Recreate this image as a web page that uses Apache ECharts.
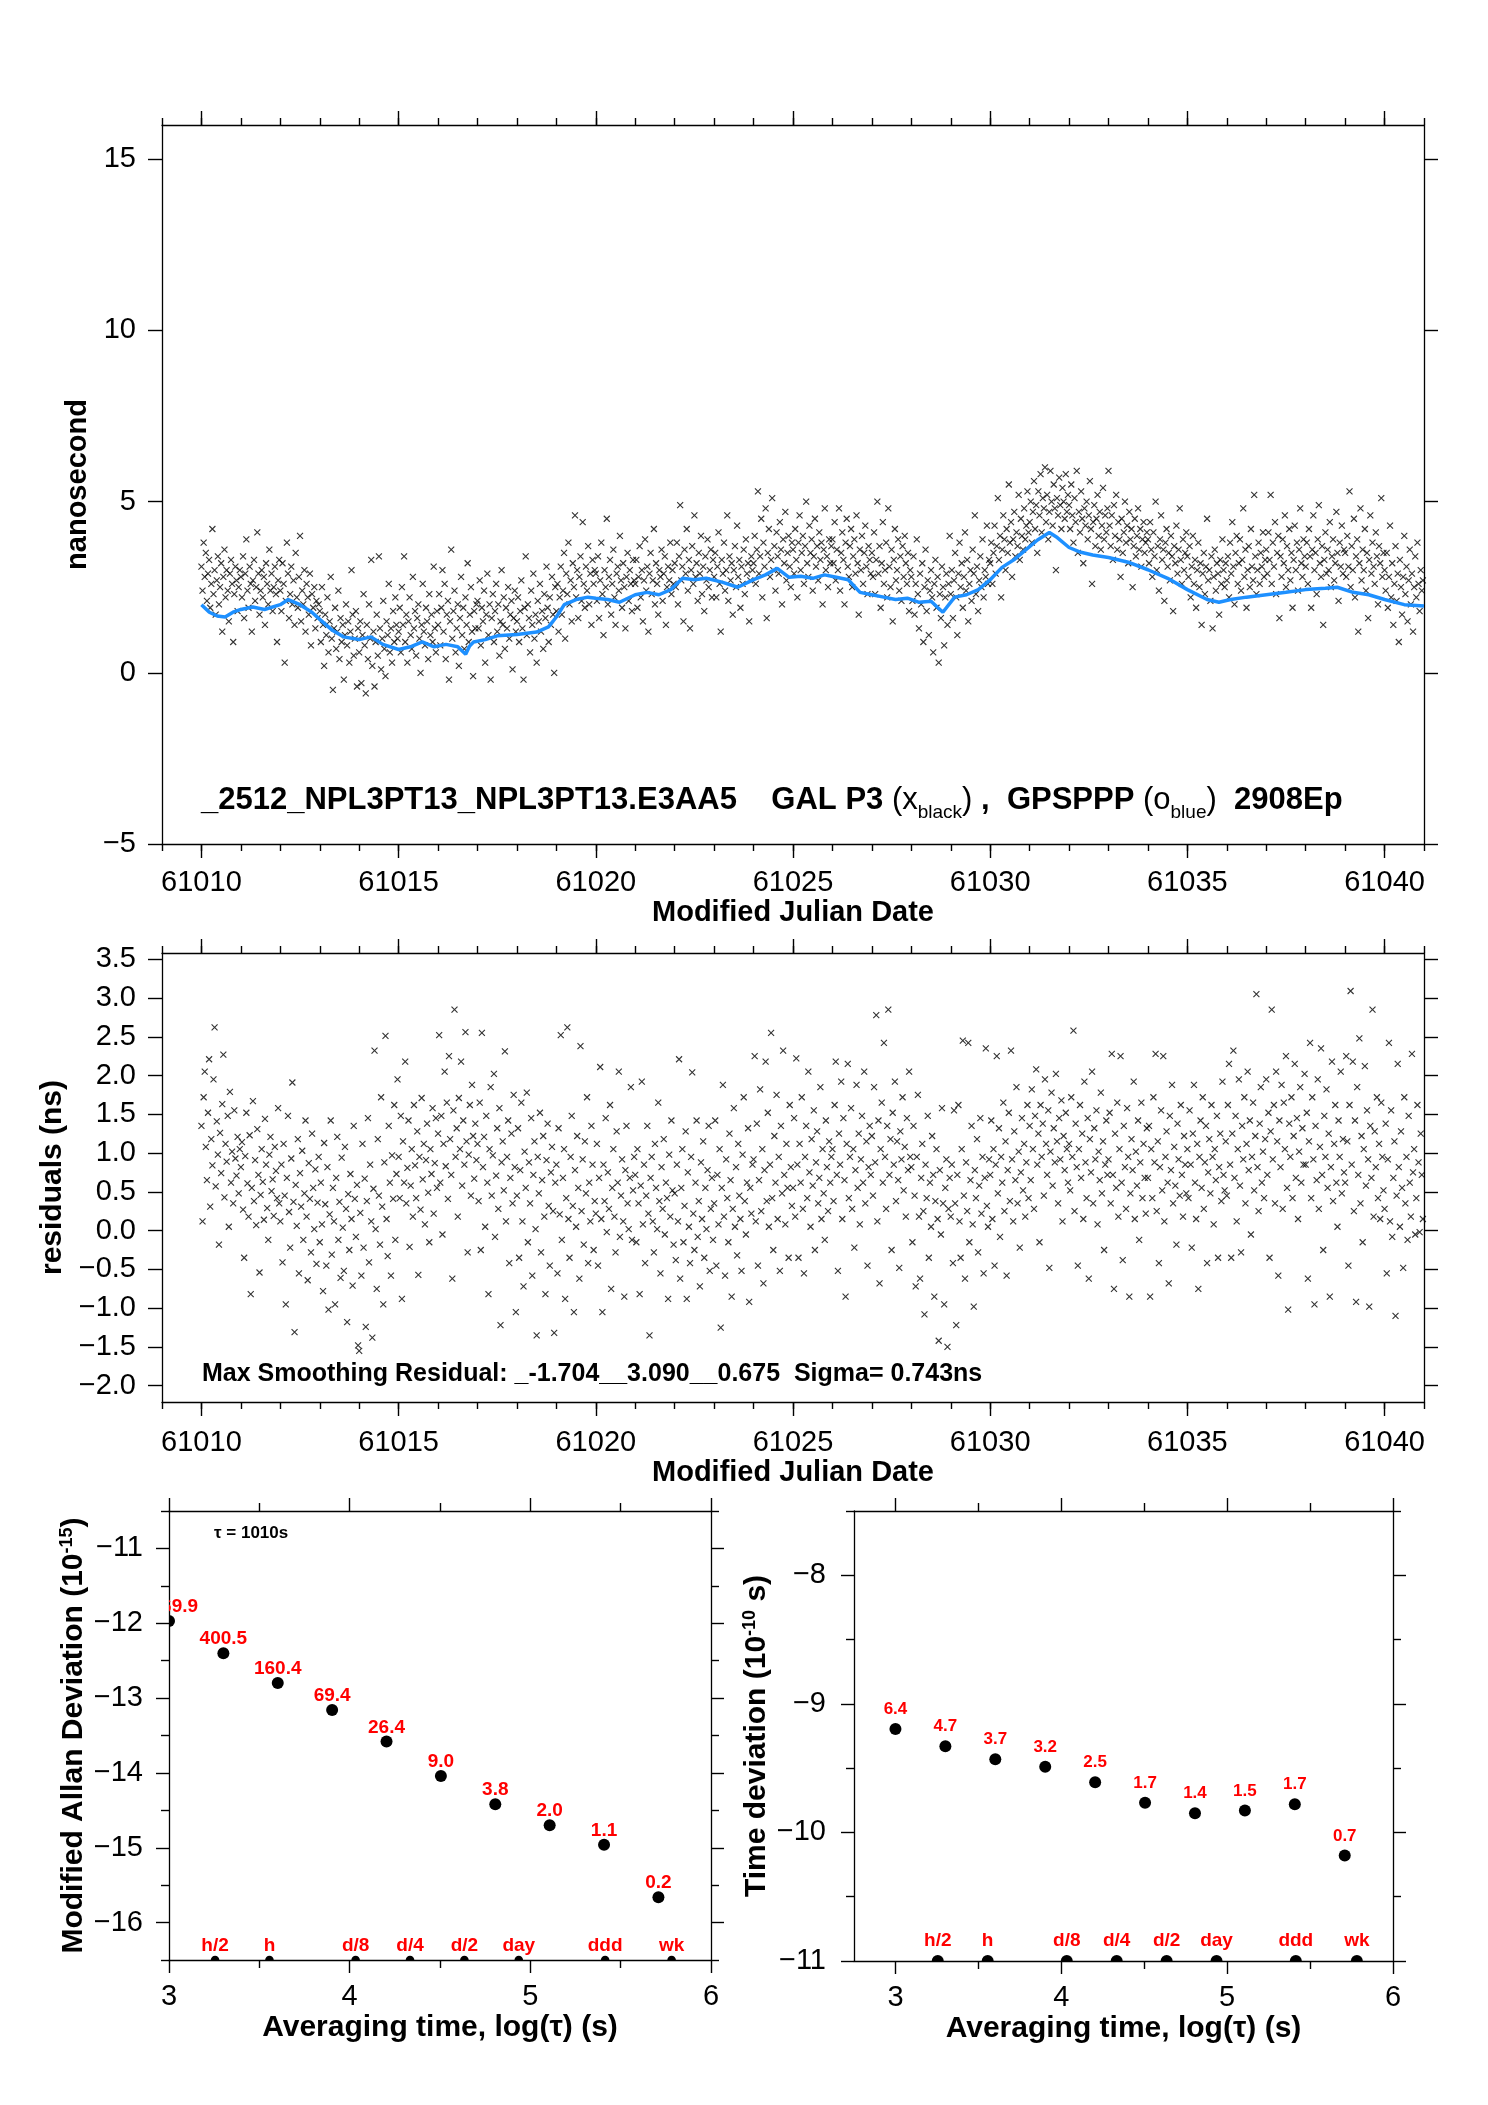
<!DOCTYPE html>
<html><head><meta charset="utf-8">
<script src="https://cdn.jsdelivr.net/npm/echarts@6/dist/echarts.min.js"></script>
<style>html,body{margin:0;padding:0;background:#fff}#c{width:1488px;height:2105px}</style>
</head><body><div id="c"></div>
<script>
const FONT = '"Liberation Sans", Arial, Helvetica, sans-serif';

// ---- tick labels / tick marks ----
const mjdLabels = [61010, 61015, 61020, 61025, 61030, 61035, 61040];
const mjdDays = [61009,61010,61011,61012,61013,61014,61015,61016,61017,61018,61019,61020,61021,61022,61023,61024,61025,61026,61027,61028,61029,61030,61031,61032,61033,61034,61035,61036,61037,61038,61039,61040,61041];
const nsTicks = [-5, 0, 5, 10, 15];
const resTicks = [-2, -1.5, -1, -0.5, 0, 0.5, 1, 1.5, 2, 2.5, 3, 3.5];
const logTauTicks = [3, 4, 5, 6];
const logTauHalf = [3.5, 4.5, 5.5];
const mdevTicks = [-16, -15, -14, -13, -12, -11];
const mdevHalf = [-16.5, -15.5, -14.5, -13.5, -12.5, -11.5, -10.5];
const tdevTicks = [-11, -10, -9, -8];
const tdevHalf = [-10.5, -9.5, -8.5, -7.5];

// ---- stability plots ----
const tauLog = [3.000, 3.301, 3.602, 3.903, 4.204, 4.505, 4.806, 5.107, 5.408, 5.709];
const mdevLog = [-11.97, -12.40, -12.80, -13.16, -13.58, -14.04, -14.42, -14.70, -14.96, -15.66];
const mdevLabels = ['1069.9', '400.5', '160.4', '69.4', '26.4', '9.0', '3.8', '2.0', '1.1', '0.2'];
const tdevLog = [-9.196, -9.33, -9.43, -9.49, -9.61, -9.77, -9.85, -9.83, -9.78, -10.18];
const tdevLabels = ['6.4', '4.7', '3.7', '3.2', '2.5', '1.7', '1.4', '1.5', '1.7', '0.7'];
const markerLog = [3.255, 3.556, 4.033, 4.334, 4.635, 4.936, 5.414, 5.782];
const markerNames = ['h/2', 'h', 'd/8', 'd/4', 'd/2', 'day', 'ddd', 'wk'];
const mdevFloor = -16.5;
const tdevFloor = -11;

// ---- GPSPPP (blue) : [MJD, ns] ----
const blueLine = [[61010.0,1.99],[61010.2,1.77],[61010.4,1.66],[61010.6,1.63],[61010.8,1.77],[61011.0,1.85],[61011.3,1.92],[61011.6,1.85],[61012.0,1.99],[61012.2,2.14],[61012.5,1.99],[61012.8,1.77],[61013.0,1.56],[61013.3,1.26],[61013.6,1.05],[61014.0,0.97],[61014.3,1.05],[61014.6,0.83],[61015.0,0.68],[61015.3,0.76],[61015.6,0.90],[61015.9,0.76],[61016.2,0.83],[61016.5,0.76],[61016.7,0.54],[61016.8,0.78],[61016.9,0.90],[61017.2,0.97],[61017.5,1.08],[61018.0,1.12],[61018.5,1.19],[61018.8,1.34],[61019.0,1.63],[61019.2,1.99],[61019.5,2.14],[61019.8,2.21],[61020.0,2.18],[61020.3,2.14],[61020.6,2.06],[61021.0,2.28],[61021.3,2.35],[61021.6,2.28],[61021.9,2.43],[61022.2,2.76],[61022.5,2.72],[61022.8,2.76],[61023.2,2.65],[61023.6,2.50],[61024.0,2.72],[61024.3,2.86],[61024.6,3.05],[61024.9,2.79],[61025.2,2.82],[61025.5,2.76],[61025.8,2.86],[61026.1,2.79],[61026.4,2.72],[61026.7,2.35],[61027.0,2.28],[61027.3,2.21],[61027.6,2.14],[61027.9,2.18],[61028.2,2.06],[61028.5,2.09],[61028.8,1.77],[61029.1,2.21],[61029.4,2.28],[61029.7,2.43],[61030.0,2.72],[61030.3,3.08],[61030.6,3.30],[61030.9,3.59],[61031.2,3.88],[61031.5,4.10],[61031.7,3.95],[61032.0,3.66],[61032.3,3.52],[61032.6,3.44],[61033.0,3.37],[61033.5,3.23],[61034.0,3.01],[61034.5,2.76],[61035.0,2.43],[61035.5,2.14],[61035.8,2.06],[61036.1,2.14],[61036.5,2.21],[61037.0,2.28],[61037.5,2.35],[61038.0,2.43],[61038.5,2.47],[61038.8,2.50],[61039.2,2.35],[61039.6,2.28],[61040.0,2.14],[61040.5,1.99],[61041.0,1.95]];

// ---- GAL P3 (black x), ns, one array per MJD day (evenly spaced in the day) ----
const g61010 = [3.1,2.4,3.8,2.8,3.5,2.1,2.9,3.3,1.9,2.6,4.2,2.3,3.0,1.7,2.7,3.4,2.0,2.5,3.2,1.2,2.8,3.6,2.2,3.0,2.4,1.5,2.9,3.3,2.6,0.9,2.3,3.1,2.7,1.8,2.5,3.0];
const g61011 = [2.8,2.2,3.4,1.6,2.9,3.9,2.4,1.9,3.1,2.6,1.2,2.7,3.3,2.1,2.5,4.1,2.9,1.7,2.4,3.0,2.2,2.8,1.4,3.2,2.6,2.0,3.6,2.4,2.9,1.8,2.5,3.1,2.3,0.9,2.7,3.3];
const g61012 = [2.4,1.8,3.2,2.6,0.3,2.1,3.8,2.9,1.6,2.3,3.1,2.0,2.7,1.4,3.5,2.2,1.9,2.8,4.0,1.5,2.4,2.0,3.0,1.2,2.6,2.2,1.7,2.9,0.8,2.3,1.9,2.5,1.3,2.1,1.6,2.0];
const g61013 = [1.8,0.9,2.5,1.4,0.2,1.7,1.1,2.2,0.6,1.5,2.8,1.0,-0.5,1.3,1.9,0.7,1.2,2.4,0.4,1.6,0.9,1.4,-0.2,1.1,2.0,0.8,1.5,0.3,1.2,3.0,1.7,0.5,1.0,1.8,-0.4,1.3];
const g61014 = [0.6,1.5,-0.3,1.1,2.3,0.8,-0.6,1.4,0.4,2.0,1.0,3.3,0.2,1.2,-0.4,0.9,1.7,0.5,3.4,1.3,0.1,1.0,2.1,0.7,-0.1,1.5,1.1,2.6,0.6,1.3,0.3,1.8,0.9,2.2,1.4,1.0];
const g61015 = [1.2,1.9,0.6,2.5,1.4,3.4,0.9,1.7,0.3,1.5,2.2,1.1,0.7,2.8,1.3,1.8,0.5,1.6,2.0,1.0,0.0,1.4,2.6,1.2,0.8,1.9,1.5,0.4,2.3,1.1,1.7,0.9,3.1,1.3,0.6,1.8];
const g61016 = [1.4,2.3,0.8,1.9,3.0,1.2,2.6,0.4,1.7,2.1,-0.2,1.5,3.6,1.0,1.8,2.4,0.6,1.3,2.0,0.2,1.6,2.8,1.1,1.9,0.7,2.2,1.4,3.2,0.9,1.7,2.5,1.2,-0.1,1.8,1.3,2.0];
const g61017 = [2.1,1.3,2.7,0.8,1.9,1.5,2.4,0.3,1.7,2.9,1.1,2.0,-0.2,1.6,2.3,0.9,1.8,2.6,1.2,2.0,0.5,1.5,3.0,1.4,2.2,0.7,1.9,1.3,2.5,1.0,1.7,2.1,0.1,1.6,2.4,1.2];
const g61018 = [1.5,2.2,0.9,1.8,2.7,1.3,-0.2,1.9,3.4,1.1,2.0,1.6,0.6,2.4,1.4,2.9,1.0,1.7,0.3,2.1,1.5,2.6,1.2,1.8,0.7,2.3,1.6,3.1,1.9,0.9,2.2,1.4,2.8,1.7,0.0,2.5];
const g61019 = [1.8,2.6,1.2,2.2,3.1,1.7,2.4,3.5,1.0,2.9,2.3,3.8,2.0,2.7,1.5,3.2,2.5,4.6,2.2,3.0,1.6,2.8,3.4,2.1,4.4,2.6,1.9,3.1,2.4,3.7,2.0,2.9,1.4,3.3,2.6,3.0];
const g61020 = [2.9,2.1,3.4,1.6,2.7,3.8,2.3,1.1,3.0,2.5,4.5,2.0,2.8,3.3,1.7,2.6,3.6,2.2,1.4,2.9,3.1,2.4,4.0,2.7,1.9,3.2,2.5,1.3,2.8,3.5,2.1,3.0,2.6,1.8,3.3,2.7];
const g61021 = [2.6,3.3,1.9,2.8,3.7,2.2,3.0,1.5,2.7,3.9,2.4,3.1,1.2,2.9,3.5,2.3,2.7,4.2,2.0,3.2,2.6,1.7,3.0,2.8,3.6,2.1,2.9,3.4,1.4,2.5,3.1,2.7,3.8,2.3,3.0,2.6];
const g61022 = [3.2,2.5,3.8,2.0,3.4,4.9,2.7,3.1,1.5,3.6,2.9,4.2,2.4,3.3,1.3,3.0,3.7,2.6,4.6,2.8,3.2,2.1,3.5,2.9,4.0,2.3,3.1,1.8,3.4,2.7,3.9,2.5,3.0,3.6,2.2,3.3];
const g61023 = [2.8,3.5,2.2,3.1,4.1,2.6,1.2,3.3,2.9,3.8,2.4,3.0,4.6,2.1,3.4,2.7,3.2,1.7,3.0,3.7,2.5,4.3,2.8,3.3,1.9,3.1,2.6,3.6,2.3,3.9,2.9,3.2,1.5,2.7,3.4,3.0];
const g61024 = [3.2,4.0,2.6,3.6,5.3,2.9,3.4,4.5,2.2,3.8,3.1,4.8,1.6,3.5,4.2,2.8,3.3,5.1,3.0,3.7,2.4,4.1,3.4,2.9,4.4,3.6,2.0,3.9,3.2,4.7,2.7,3.5,4.0,3.1,2.5,3.8];
const g61025 = [3.6,2.9,4.2,3.3,2.2,3.8,4.6,3.0,3.5,4.0,2.6,3.7,5.0,3.2,2.8,4.3,3.5,3.9,2.4,3.4,4.5,3.1,3.7,2.7,4.1,3.3,3.8,2.0,3.6,4.8,3.0,3.4,2.5,3.9,3.2,3.7];
const g61026 = [3.9,3.2,4.4,2.7,3.6,3.0,4.8,2.4,3.5,4.1,3.3,2.0,3.8,4.5,3.1,2.8,3.7,4.2,2.5,3.4,3.9,2.9,4.6,3.2,1.7,3.6,3.0,4.0,2.6,3.5,4.3,3.1,2.3,3.7,3.3,2.9];
const g61027 = [3.5,2.8,4.1,2.3,3.3,5.0,2.9,3.7,1.9,3.2,4.4,2.6,3.0,3.8,2.2,4.8,3.1,2.5,3.6,1.5,3.3,4.2,2.7,3.0,3.9,2.4,3.4,2.1,3.7,2.8,4.0,3.2,2.6,3.5,1.8,3.0];
const g61028 = [2.8,2.1,3.4,1.7,2.6,3.9,2.3,1.3,2.9,2.0,3.2,0.9,2.5,3.6,1.8,2.7,1.1,2.4,3.0,2.2,0.6,2.6,3.3,1.9,2.8,0.3,2.3,1.6,3.1,2.5,0.8,2.2,2.9,1.4,2.6,4.0];
const g61029 = [2.3,3.0,1.6,2.7,3.5,2.2,1.1,2.9,3.8,2.5,3.2,1.9,2.8,4.1,2.4,3.3,1.5,2.6,3.0,2.1,3.6,2.9,4.6,2.3,3.1,1.8,2.7,3.4,2.5,3.9,2.2,3.0,2.8,4.3,2.6,3.3];
const g61030 = [3.2,3.8,2.6,3.5,4.3,2.9,3.7,5.1,3.3,4.0,2.2,3.6,4.6,3.9,3.0,4.2,3.5,5.5,3.8,4.4,2.8,3.9,4.7,3.4,4.1,3.7,5.2,3.3,4.5,4.0,3.6,4.8,3.9,4.3,5.3,4.1];
const g61031 = [4.4,5.0,3.8,4.7,5.6,4.2,4.9,3.5,5.3,4.6,5.8,4.1,5.1,4.8,6.0,4.4,5.2,3.9,4.7,5.9,5.0,4.3,5.5,4.8,3.0,5.1,4.6,5.7,4.9,4.2,5.4,5.0,4.5,5.8,4.7,5.2];
const g61032 = [4.9,4.2,5.5,4.6,3.8,5.1,4.4,5.9,3.5,4.7,4.1,5.3,4.5,3.2,4.8,4.3,5.0,3.9,4.6,5.6,4.2,2.6,4.4,4.9,3.7,4.5,5.2,4.0,4.7,3.6,4.3,5.4,3.9,4.6,4.1,4.8];
const g61033 = [5.9,4.3,3.7,4.6,3.3,4.9,4.0,5.2,3.6,4.4,3.9,2.8,4.5,3.5,4.1,5.0,3.8,4.3,3.2,4.7,3.9,4.2,2.5,3.7,4.5,3.4,4.0,4.8,3.6,4.2,3.1,3.9,4.4,3.5,3.8,4.1];
const g61034 = [3.9,3.2,4.4,3.6,2.8,4.1,3.4,5.0,3.0,3.7,2.4,3.9,4.6,3.3,3.6,2.1,3.8,4.2,3.1,3.5,2.7,4.0,3.4,1.8,3.7,3.2,4.3,2.9,3.6,4.8,3.3,2.6,3.9,3.0,3.5,4.1];
const g61035 = [3.4,2.8,3.7,2.2,3.1,4.0,2.6,3.3,1.9,3.0,3.8,2.5,3.2,1.4,2.9,3.5,2.3,3.1,4.5,2.7,3.0,2.1,3.4,1.3,2.8,3.6,2.4,3.2,2.9,1.7,3.3,2.6,3.9,3.0,2.5,3.2];
const g61036 = [2.7,3.4,2.2,3.8,2.9,4.4,3.1,2.0,3.5,4.0,2.6,3.2,3.9,2.4,3.3,4.8,2.8,3.6,1.9,3.0,3.7,2.5,4.2,3.1,2.7,5.2,3.4,2.3,3.0,3.8,2.6,3.5,3.1,4.1,2.8,3.3];
const g61037 = [3.6,2.9,4.1,3.3,5.2,2.6,3.8,3.1,4.4,2.3,3.5,4.0,1.6,3.4,2.8,3.9,3.2,4.6,2.5,3.7,3.0,4.2,2.7,3.5,1.9,3.3,4.3,3.0,3.8,2.4,3.6,4.8,3.2,2.8,3.9,3.4];
const g61038 = [3.1,3.8,2.6,4.2,3.4,1.9,3.6,4.6,3.0,3.5,2.3,3.9,4.9,3.2,2.8,3.7,1.4,3.3,4.1,2.9,3.6,3.0,4.4,2.5,3.4,3.9,2.7,3.2,4.7,3.5,2.1,3.8,3.1,4.3,2.9,3.6];
const g61039 = [3.5,2.8,4.0,3.1,5.3,2.5,3.7,3.0,4.5,2.2,3.4,3.9,1.2,3.2,4.8,2.7,3.6,3.0,4.2,2.4,3.5,1.6,3.3,4.6,2.9,3.8,3.1,2.6,4.1,3.4,2.0,3.7,3.2,5.1,2.8,3.5];
const g61040 = [3.0,2.4,3.5,1.9,2.8,4.3,2.2,3.2,1.4,2.6,3.7,2.1,2.9,0.9,3.3,2.5,1.7,2.8,4.0,2.3,3.1,1.5,2.7,3.6,2.0,2.9,1.2,2.5,3.4,2.2,3.8,2.6,1.8,3.0,2.4,2.7];

// ---- residuals (ns), one array per MJD day ----
const r61010 = [1.35,0.12,1.72,2.05,1.08,0.65,1.52,2.21,0.31,1.18,0.84,1.95,2.62,0.57,1.41,0.98,-0.18,1.26,0.74,1.63,2.27,0.43,1.12,0.89,1.48,0.05,1.79,0.62,1.02,0.35,1.55,0.93,0.71,1.21,0.48,1.05];
const r61011 = [0.82,1.14,0.27,-0.35,0.96,1.52,0.61,0.18,1.23,-0.82,0.55,1.67,0.38,0.91,0.07,1.31,0.72,-0.54,0.46,1.05,0.63,0.14,1.44,0.85,0.29,-0.12,0.98,1.21,0.51,0.66,0.19,1.08,0.77,0.42,1.58,0.35];
const r61012 = [0.12,0.85,-0.41,1.12,0.45,-0.95,0.68,1.48,0.24,-0.22,0.93,1.91,0.37,-1.31,0.59,0.06,1.18,-0.55,0.74,0.31,1.03,-0.12,0.48,1.42,0.18,-0.64,0.87,0.41,-0.28,1.25,0.55,0.02,0.79,-0.43,0.36,0.95];
const r61013 = [-0.15,0.62,0.08,-0.78,1.13,0.34,-0.45,0.82,-1.02,0.21,1.42,-0.31,0.55,0.12,-0.95,0.68,1.21,-0.12,0.37,-0.61,0.94,0.04,-0.52,1.08,0.28,-1.18,0.47,-0.25,0.73,0.15,-0.71,1.35,0.41,-0.08,0.59,-1.48];
const r61014 = [-1.55,0.23,-0.58,1.12,-0.22,0.67,-1.24,0.38,1.45,-0.41,0.85,0.12,-1.38,0.54,2.32,0.02,-0.75,1.18,0.45,-0.18,1.72,0.31,-0.95,0.88,2.51,0.15,-0.33,1.35,0.62,-0.58,0.97,0.41,1.62,-0.12,0.73,1.95];
const r61015 = [0.95,0.42,1.48,-0.88,1.15,0.62,2.18,0.35,0.81,1.42,-0.21,0.58,1.05,0.18,1.62,0.84,0.42,1.28,-0.57,0.95,0.27,1.71,0.66,1.12,0.08,0.91,1.38,0.49,-0.15,1.05,0.73,1.58,0.22,0.87,1.45,0.55];
const r61016 = [1.25,2.52,0.62,1.48,-0.05,1.12,2.05,0.83,1.65,0.41,2.25,1.18,0.72,-0.62,1.55,2.85,0.95,1.32,0.18,1.71,1.05,2.18,0.58,1.42,0.85,2.56,1.15,-0.28,0.98,1.62,0.45,1.88,1.22,0.67,1.38,0.91];
const r61017 = [1.12,0.38,1.65,-0.25,2.55,0.82,1.21,0.05,1.48,0.62,-0.82,1.05,1.85,0.45,0.97,2.02,-0.08,0.71,1.32,0.28,1.58,-1.22,0.88,1.15,0.52,2.31,0.12,0.95,1.42,-0.42,0.68,1.25,0.35,1.75,0.82,-1.05];
const r61018 = [0.45,1.32,-0.35,0.78,1.65,0.12,-0.72,1.02,0.55,1.78,-0.15,0.88,0.35,1.45,-0.58,0.72,1.15,0.02,-1.35,0.95,0.48,1.52,-0.28,0.65,1.22,0.18,-0.82,0.91,1.38,0.32,-0.45,0.75,1.08,0.25,-1.32,0.62];
const r61019 = [0.85,-0.55,1.32,0.21,2.52,-0.12,0.68,1.05,-0.88,0.42,2.62,0.15,-0.35,0.95,1.48,0.32,-1.05,0.78,0.05,1.22,0.55,-0.62,2.38,0.25,0.92,-0.18,1.15,0.48,1.72,-0.42,0.62,0.12,1.35,0.85,-0.25,0.38];
const r61020 = [0.22,1.12,-0.45,0.68,2.11,0.15,-1.05,0.85,0.38,1.45,-0.02,0.75,0.28,1.62,-0.75,0.55,1.05,0.18,-0.28,1.28,0.62,2.05,-0.08,0.45,0.92,0.12,-0.85,0.78,1.35,0.35,0.02,0.68,1.85,-0.12,0.52,0.95];
const r61021 = [0.72,-0.15,1.05,0.35,-0.82,0.58,1.92,0.08,0.85,-0.42,0.45,1.35,0.22,-1.35,0.68,0.95,0.12,-0.28,1.12,0.55,0.02,1.65,0.38,-0.55,0.82,0.28,1.18,-0.05,0.62,0.42,-0.88,0.98,0.18,1.42,0.52,-0.18];
const r61022 = [0.48,-0.38,0.85,0.12,2.21,-0.62,0.55,1.05,-0.15,0.32,1.28,-0.88,0.75,0.05,-0.42,0.95,2.04,0.22,-0.25,0.62,1.42,-0.08,0.38,-0.72,0.88,0.15,1.15,-0.35,0.55,0.02,0.78,1.35,-0.52,0.28,0.68,-0.12];
const r61023 = [0.35,1.42,-0.45,0.72,0.08,1.05,-1.25,0.55,1.88,0.18,-0.58,0.92,0.42,-0.15,1.25,0.65,-0.85,0.28,1.58,0.05,0.82,-0.32,1.12,0.45,0.15,-0.52,0.98,1.72,0.38,-0.05,0.62,1.32,-0.92,0.55,0.22,0.85];
const r61024 = [0.92,2.25,0.12,1.38,-0.45,0.65,1.82,0.25,1.05,-0.68,0.78,2.18,0.38,1.52,0.05,0.85,2.55,0.42,-0.25,1.22,0.62,1.75,0.15,0.95,-0.52,1.35,0.48,2.32,0.72,0.08,1.12,0.55,-0.35,1.62,0.82,0.32];
const r61025 = [0.55,1.45,0.18,2.22,0.85,-0.35,1.12,0.62,1.72,0.28,-0.55,0.95,1.35,0.42,2.05,0.75,0.05,1.18,0.58,1.55,-0.25,0.88,1.28,0.35,0.68,1.85,0.15,1.05,0.48,-0.12,1.42,0.82,0.25,1.15,0.62,0.95];
const r61026 = [1.05,0.38,1.62,2.18,0.72,-0.52,1.25,0.85,1.92,0.15,1.45,0.65,-0.85,1.12,2.15,0.42,0.95,1.58,0.28,1.05,-0.22,0.78,1.88,0.55,1.25,0.08,0.92,1.48,0.62,2.05,0.35,1.15,-0.45,0.82,1.35,0.72];
const r61027 = [1.22,0.45,1.85,0.88,2.78,0.12,1.42,-0.68,1.05,1.65,0.62,2.42,0.95,0.28,1.35,2.85,0.72,1.18,-0.25,1.52,0.85,1.92,0.38,1.15,0.65,-0.48,1.28,0.92,1.72,0.52,1.08,0.18,1.45,0.78,2.05,0.95];
const r61028 = [0.82,-0.15,1.35,0.45,-0.72,0.95,1.75,0.18,-0.62,0.68,1.12,0.25,-1.08,0.85,0.42,1.48,-0.35,0.62,0.05,1.22,0.72,-0.85,0.38,1.05,0.15,-1.42,0.78,-0.05,1.58,0.35,-0.95,0.55,0.92,-1.50,0.28,0.68];
const r61029 = [0.18,0.85,-0.42,1.55,0.35,-1.22,0.72,1.62,0.12,-0.35,1.05,2.45,0.45,-0.62,0.88,0.25,2.42,-0.15,0.65,1.35,0.08,-0.98,0.78,0.42,1.18,-0.28,0.58,1.45,0.22,0.95,-0.55,0.68,2.35,0.32,0.05,0.92];
const r61030 = [0.72,1.42,0.15,1.05,-0.45,0.85,2.25,0.48,1.32,-0.08,0.95,0.62,1.65,0.25,1.15,-0.58,0.78,1.52,0.38,2.32,0.92,0.12,1.28,0.65,1.85,0.35,1.02,-0.22,0.75,1.45,0.52,1.12,0.18,0.88,1.62,0.42];
const r61031 = [1.35,0.65,1.82,1.05,0.28,1.48,2.08,0.85,1.25,-0.15,1.62,0.95,1.38,0.45,1.95,1.12,0.72,1.55,-0.48,1.02,1.78,0.58,1.32,0.88,2.02,1.15,0.35,1.45,0.92,1.68,0.12,1.22,0.78,1.52,1.05,0.62];
const r61032 = [1.12,0.52,1.72,0.95,2.58,0.25,1.38,0.82,-0.45,1.05,1.62,0.68,1.25,0.15,1.92,0.88,0.42,1.45,-0.62,1.18,0.75,2.05,0.35,1.32,0.92,1.55,0.08,1.02,0.65,1.78,0.48,1.15,-0.25,0.85,1.42,0.72];
const r61033 = [0.92,1.52,0.35,2.28,0.72,-0.75,1.25,0.55,1.65,0.18,1.05,2.25,0.62,-0.38,1.35,0.82,0.28,1.58,0.95,-0.85,0.48,1.18,0.78,1.92,0.15,1.02,0.58,1.42,-0.12,0.88,1.65,0.42,1.12,0.68,0.22,1.32];
const r61034 = [0.68,1.35,-0.85,1.05,0.42,1.72,0.88,2.28,0.25,1.15,-0.42,0.82,1.55,0.52,2.25,0.12,0.95,1.28,0.62,-0.68,1.48,0.78,1.88,0.35,1.08,0.58,-0.18,1.38,0.92,0.45,1.62,0.72,0.18,1.22,0.85,0.48];
const r61035 = [1.05,0.42,1.55,0.85,-0.22,1.25,1.88,0.62,0.15,1.12,-0.75,0.95,1.42,0.55,1.72,0.28,0.88,1.35,-0.42,0.75,1.18,0.48,1.62,0.95,0.08,1.05,0.65,1.48,-0.35,0.82,1.25,0.38,1.92,0.72,0.52,1.15];
const r61036 = [0.45,1.62,2.15,0.85,-0.35,1.25,2.32,0.68,1.48,0.12,1.05,1.95,0.58,-0.28,1.35,0.92,1.72,0.35,1.12,2.05,0.78,1.42,-0.05,0.95,1.65,0.52,1.22,3.05,0.82,0.25,1.38,1.85,0.62,1.02,0.42,1.18];
const r61037 = [1.95,0.72,1.52,-0.35,1.28,2.85,0.92,1.62,0.35,2.05,1.15,-0.58,1.42,0.82,1.88,0.28,1.65,1.05,2.25,0.55,-1.02,1.38,0.95,1.72,0.42,1.22,2.15,0.68,1.45,0.15,1.02,1.85,0.62,1.32,0.85,2.02];
const r61038 = [0.85,1.52,-0.62,1.15,2.42,0.42,1.72,0.92,-0.95,1.35,0.65,1.95,0.28,1.08,2.35,0.72,-0.25,1.48,0.95,1.82,0.55,1.25,-0.85,0.82,2.18,0.38,1.12,1.62,0.62,0.05,1.42,0.95,2.05,0.48,1.18,0.75];
const r61039 = [0.62,2.25,1.15,-0.45,1.62,3.09,0.85,2.18,0.25,1.42,-0.92,1.85,0.72,2.48,0.35,1.22,-0.15,1.05,2.12,0.58,1.55,0.92,-0.98,1.35,0.68,2.85,0.18,1.28,0.82,1.72,0.42,1.12,0.15,1.65,0.95,0.52];
const r61040 = [0.28,1.38,-0.55,0.92,2.42,0.12,1.55,-0.08,0.68,1.15,-1.10,0.45,2.15,0.82,0.05,1.28,0.55,-0.48,1.72,0.35,0.95,-0.12,1.48,0.62,0.18,2.28,0.75,1.05,-0.05,0.42,1.62,0.88,-0.02,1.25,0.72,0.15];

const galDays = [g61010,g61011,g61012,g61013,g61014,g61015,g61016,g61017,g61018,g61019,g61020,g61021,g61022,g61023,g61024,g61025,g61026,g61027,g61028,g61029,g61030,g61031,g61032,g61033,g61034,g61035,g61036,g61037,g61038,g61039,g61040];
const resDays = [r61010,r61011,r61012,r61013,r61014,r61015,r61016,r61017,r61018,r61019,r61020,r61021,r61022,r61023,r61024,r61025,r61026,r61027,r61028,r61029,r61030,r61031,r61032,r61033,r61034,r61035,r61036,r61037,r61038,r61039,r61040];
const firstDay = 61010;

function toPoints(days) {
  const out = [];
  days.forEach((arr, d) => arr.forEach((v, j) => out.push([firstDay + d + j / arr.length, v])));
  return out;
}

// ---------------- chart ----------------
const MINUS = '\u2212';
const fmtInt = v => (v < 0 ? MINUS : '') + Math.abs(v).toFixed(0);
const fmt1 = v => (v < 0 ? MINUS : '') + Math.abs(v).toFixed(1);

const xAxes = [], yAxes = [];
const LINE = {show: true, onZero: false, lineStyle: {color: '#000', width: 1.3}};
const NOLINE = {show: false, onZero: false};
function tick(len, vals) {
  return {show: true, inside: false, length: len, customValues: vals, lineStyle: {color: '#000', width: 1.4}};
}
function base(g, min, max, pos) {
  return {gridIndex: g, type: 'value', min: min, max: max, position: pos, scale: true,
    splitLine: {show: false}, splitArea: {show: false}, minorTick: {show: false}};
}
function addBox(g, c) {
  const xi = xAxes.length, yi = yAxes.length;
  const nameStyle = Object.assign({fontFamily: FONT, fontSize: c.nameFs, fontWeight: 'bold', color: '#000'}, c.nameExtra || {});
  xAxes.push(Object.assign(base(g, c.xMin, c.xMax, 'bottom'), {
    axisLine: LINE, axisTick: tick(c.major, c.xMajor),
    axisLabel: {show: true, customValues: c.xMajor, formatter: c.xFmt, margin: c.xMargin, fontFamily: FONT, fontSize: c.fs, color: '#000'},
    name: c.xName, nameLocation: 'middle', nameGap: c.xNameGap,
    nameTextStyle: {fontFamily: FONT, fontSize: c.xNameFs, fontWeight: 'bold', color: '#000'}
  }));
  xAxes.push(Object.assign(base(g, c.xMin, c.xMax, 'top'), {axisLine: LINE, axisTick: tick(c.major, c.xMajor), axisLabel: {show: false}}));
  if (c.xMinor) {
    xAxes.push(Object.assign(base(g, c.xMin, c.xMax, 'bottom'), {axisLine: NOLINE, axisTick: tick(c.minor, c.xMinor), axisLabel: {show: false}}));
    xAxes.push(Object.assign(base(g, c.xMin, c.xMax, 'top'), {axisLine: NOLINE, axisTick: tick(c.minor, c.xMinor), axisLabel: {show: false}}));
  }
  yAxes.push(Object.assign(base(g, c.yMin, c.yMax, 'left'), {
    axisLine: LINE, axisTick: tick(c.major, c.yMajor),
    axisLabel: {show: true, customValues: c.yMajor, formatter: c.yFmt, margin: c.yMargin, fontFamily: FONT, fontSize: c.fs, color: '#000'},
    name: c.yName, nameLocation: 'middle', nameGap: c.yNameGap, nameTextStyle: nameStyle
  }));
  yAxes.push(Object.assign(base(g, c.yMin, c.yMax, 'right'), {axisLine: LINE, axisTick: tick(c.major, c.yMajor), axisLabel: {show: false}}));
  if (c.yMinor) {
    yAxes.push(Object.assign(base(g, c.yMin, c.yMax, 'left'), {axisLine: NOLINE, axisTick: tick(c.minor, c.yMinor), axisLabel: {show: false}}));
    yAxes.push(Object.assign(base(g, c.yMin, c.yMax, 'right'), {axisLine: NOLINE, axisTick: tick(c.minor, c.yMinor), axisLabel: {show: false}}));
  }
  return {x: xi, y: yi};
}

const grids = [
  {left: 162, top: 125, width: 1262, height: 719},
  {left: 162, top: 953, width: 1262, height: 449},
  {left: 169, top: 1511, width: 542, height: 449},
  {left: 854, top: 1511, width: 539, height: 450}
];

const A0 = addBox(0, {xMin: 61009, xMax: 61041, xMajor: mjdLabels, xMinor: mjdDays, xFmt: v => String(v), xMargin: 24,
  xName: 'Modified Julian Date', xNameGap: 54, xNameFs: 29,
  yMin: -5, yMax: 16, yMajor: nsTicks, yFmt: fmtInt, yMargin: 26, yName: 'nanosecond', yNameGap: 62, nameFs: 29,
  major: 14, minor: 7, fs: 29});
const A1 = addBox(1, {xMin: 61009, xMax: 61041, xMajor: mjdLabels, xMinor: mjdDays, xFmt: v => String(v), xMargin: 26,
  xName: 'Modified Julian Date', xNameGap: 56, xNameFs: 29,
  yMin: -2.21, yMax: 3.58, yMajor: resTicks, yFmt: fmt1, yMargin: 26, yName: 'residuals (ns)', yNameGap: 84, nameFs: 30,
  major: 14, minor: 7, fs: 29});
const supRich = {sup: {fontFamily: FONT, fontSize: 18, fontWeight: 'bold', lineHeight: 18, verticalAlign: 'top', color: '#000'}};
const A2 = addBox(2, {xMin: 3, xMax: 6, xMajor: logTauTicks, xMinor: logTauHalf, xFmt: v => String(v), xMargin: 22,
  xName: 'Averaging time, log(\u03c4) (s)', xNameGap: 53, xNameFs: 30,
  yMin: -16.5, yMax: -10.5, yMajor: mdevTicks, yMinor: mdevHalf, yFmt: fmtInt, yMargin: 26,
  yName: 'Modified Allan Deviation (10{sup|-15})', yNameGap: 78, nameFs: 30, nameExtra: {lineHeight: 32, rich: supRich},
  major: 13, minor: 8, fs: 29});
const A3 = addBox(3, {xMin: 2.75, xMax: 6, xMajor: logTauTicks, xMinor: logTauHalf, xFmt: v => String(v), xMargin: 22,
  xName: 'Averaging time, log(\u03c4) (s)', xNameGap: 53, xNameFs: 30,
  yMin: -11, yMax: -7.5, yMajor: tdevTicks, yMinor: tdevHalf, yFmt: fmtInt, yMargin: 28,
  yName: 'Time deviation (10{sup|-10} s)', yNameGap: 80, nameFs: 30, nameExtra: {lineHeight: 32, rich: supRich},
  major: 13, minor: 8, fs: 29});

function dotRenderer(labels, r, fs, dy) {
  return function (params, api) {
    const p = api.coord([api.value(0), api.value(1)]);
    return {type: 'group', children: [
      {type: 'circle', shape: {cx: p[0], cy: p[1], r: r}, style: {fill: '#000'}},
      {type: 'text', x: p[0], y: p[1] - dy, style: {text: labels[params.dataIndex], fill: '#ff0000',
        font: 'bold ' + fs + 'px ' + FONT, align: 'center', verticalAlign: 'bottom'}}
    ]};
  };
}

const crossSymbol = 'path://M0,0L10,10M10,0L0,10';
const crossStyle = {color: '#000', borderColor: '#000', borderWidth: 1.1};

const option = {
  animation: false,
  backgroundColor: '#fff',
  grid: grids,
  xAxis: xAxes,
  yAxis: yAxes,
  title: [
    {left: 201, top: 778, padding: 0,
     text: '_2512_NPL3PT13_NPL3PT13.E3AA5    GAL P3 {r|(x}{sub|black}{r|)} ,  GPSPPP {r|(o}{sub|blue}{r|)}  2908Ep',
     textStyle: {fontFamily: FONT, fontSize: 31, fontWeight: 'bold', color: '#000', lineHeight: 44,
       rich: {r: {fontFamily: FONT, fontSize: 31, fontWeight: 'normal', lineHeight: 44, color: '#000'},
              sub: {fontFamily: FONT, fontSize: 19, fontWeight: 'normal', lineHeight: 19, verticalAlign: 'bottom', color: '#000'}}}},
    {left: 202, top: 1359, padding: 0,
     text: 'Max Smoothing Residual: _-1.704__3.090__0.675  Sigma= 0.743ns',
     textStyle: {fontFamily: FONT, fontSize: 25, fontWeight: 'bold', color: '#000', lineHeight: 30}},
    {left: 214, top: 1523, padding: 0,
     text: '\u03c4 = 1010s',
     textStyle: {fontFamily: FONT, fontSize: 17, fontWeight: 'bold', color: '#000', lineHeight: 20}}
  ],
  series: [
    {type: 'scatter', xAxisIndex: A0.x, yAxisIndex: A0.y, data: toPoints(galDays), symbol: crossSymbol,
     symbolSize: [6, 6], itemStyle: crossStyle, z: 2, silent: true},
    {type: 'line', xAxisIndex: A0.x, yAxisIndex: A0.y, data: blueLine, showSymbol: false, symbol: 'none',
     lineStyle: {color: '#1E90FF', width: 3.5}, z: 3, silent: true},
    {type: 'scatter', xAxisIndex: A1.x, yAxisIndex: A1.y, data: toPoints(resDays), symbol: crossSymbol,
     symbolSize: [6, 6], itemStyle: crossStyle, z: 2, silent: true},
    {type: 'custom', xAxisIndex: A2.x, yAxisIndex: A2.y, clip: true, silent: true,
     data: tauLog.map((x, i) => [x, mdevLog[i]]), encode: {x: 0, y: 1},
     renderItem: dotRenderer(mdevLabels, 6, 19, 4.7)},
    {type: 'custom', xAxisIndex: A2.x, yAxisIndex: A2.y, clip: true, silent: true,
     data: markerLog.map(x => [x, mdevFloor]), encode: {x: 0, y: 1},
     renderItem: dotRenderer(markerNames, 4.3, 19, 4.6)},
    {type: 'custom', xAxisIndex: A3.x, yAxisIndex: A3.y, clip: true, silent: true,
     data: tauLog.map((x, i) => [x, tdevLog[i]]), encode: {x: 0, y: 1},
     renderItem: dotRenderer(tdevLabels, 6, 17, 11)},
    {type: 'custom', xAxisIndex: A3.x, yAxisIndex: A3.y, clip: true, silent: true,
     data: markerLog.map(x => [x, tdevFloor]), encode: {x: 0, y: 1},
     renderItem: dotRenderer(markerNames, 6, 19, 10.4)}
  ]
};

const chart = echarts.init(document.getElementById('c'), null, {renderer: 'canvas'});
chart.setOption(option);
</script></body></html>
